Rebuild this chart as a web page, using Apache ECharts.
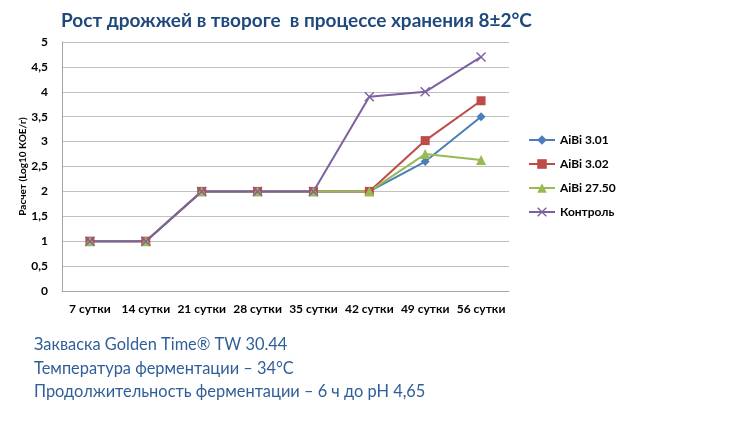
<!DOCTYPE html>
<html>
<head>
<meta charset="utf-8">
<script src="https://cdn.jsdelivr.net/npm/echarts@6/dist/echarts.min.js"></script>
<style>
  html, body { margin: 0; padding: 0; background: #fff; }
  #chart { width: 755px; height: 440px; }
</style>
</head>
<body>
<div id="chart"></div>
<script>
const days = ['7 сутки', '14 сутки', '21 сутки', '28 сутки', '35 сутки', '42 сутки', '49 сутки', '56 сутки']
const aibi301 = [1, 1, 2, 2, 2, 2, 2.6, 3.5]
const aibi302 = [1, 1, 2, 2, 2, 2, 3.02, 3.82]
const aibi2750 = [1, 1, 2, 2, 2, 2, 2.75, 2.63]
const control = [1, 1, 2, 2, 2, 3.9, 4, 4.7]
const notes = [
  'Закваска Golden Time® TW 30.44',
  'Температура ферментации – 34°C',
  'Продолжительность ферментации – 6 ч до pH 4,65',
]

const FONT = 'Lato, "Open Sans", sans-serif'
const X_SYMBOL = 'path://M0,1L1,0L5,4L9,0L10,1L6,5L10,9L9,10L5,6L1,10L0,9L4,5Z'

function line(name, data, color, symbol, size) {
  return {
    name,
    type: 'line',
    data,
    symbol,
    symbolSize: size,
    showSymbol: true,
    lineStyle: { color, width: 2 },
    itemStyle: { color },
    emphasis: { disabled: true },
  }
}

const chart = echarts.init(document.getElementById('chart'), null, { renderer: 'canvas' })
chart.setOption({
  backgroundColor: '#ffffff',
  animation: false,
  title: [
    {
      text: 'Рост дрожжей в твороге  в процессе хранения 8±2°C',
      left: 56,
      top: 6,
      textStyle: { fontFamily: FONT, fontSize: 19, fontWeight: 'bold', color: '#1f497d' },
    },
    {
      text: notes.join('\n'),
      left: 29,
      top: 328,
      textStyle: { fontFamily: FONT, fontSize: 16.4, fontWeight: 'normal', color: '#2f5f98', lineHeight: 23.5 },
    },
  ],
  legend: {
    orient: 'vertical',
    left: 523,
    top: 129,
    itemGap: 12,
    itemWidth: 26,
    itemHeight: 12,
    textStyle: { fontFamily: FONT, fontSize: 12, fontWeight: 'bold', color: '#000' },
    data: ['AiBi 3.01', 'AiBi 3.02', 'AiBi 27.50', 'Контроль'],
  },
  grid: { left: 62, right: 246, top: 42, bottom: 149, containLabel: false },
  xAxis: {
    type: 'category',
    data: days,
    boundaryGap: true,
    axisLine: { lineStyle: { color: '#a6a6a6' } },
    axisTick: { show: false },
    axisLabel: { interval: 0, fontFamily: FONT, fontSize: 12, fontWeight: 'bold', color: '#000', margin: 12 },
  },
  yAxis: {
    type: 'value',
    min: 0,
    max: 5,
    interval: 0.5,
    name: 'Расчет (Log10 КОЕ/г)',
    nameLocation: 'middle',
    nameGap: 34,
    nameMoveOverlap: false,
    nameTextStyle: { fontFamily: FONT, fontSize: 10, fontWeight: 'bold', color: '#000' },
    axisLine: { show: true, lineStyle: { color: '#a6a6a6' } },
    axisTick: { show: false },
    splitLine: { lineStyle: { color: '#c0c0c0' } },
    axisLabel: {
      fontFamily: FONT, fontSize: 12, fontWeight: 'bold', color: '#000', margin: 14,
      formatter: v => String(v).replace('.', ','),
    },
  },
  series: [
    line('AiBi 3.01', aibi301, '#4a7ebb', 'diamond', 9),
    line('AiBi 3.02', aibi302, '#be4b48', 'rect', 9),
    line('AiBi 27.50', aibi2750, '#98b954', 'triangle', 10),
    line('Контроль', control, '#7d60a0', X_SYMBOL, 10),
  ],
})
</script>
</body>
</html>
